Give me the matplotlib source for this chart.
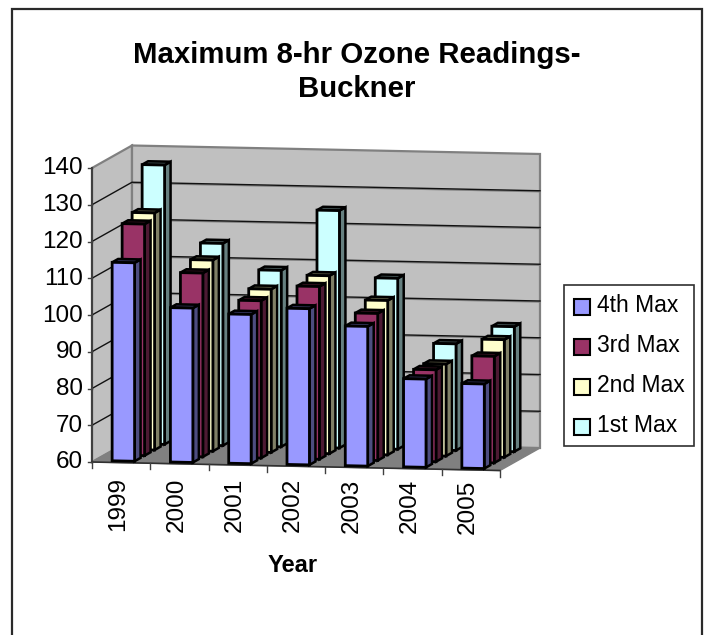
import matplotlib
matplotlib.use("Agg")
import matplotlib.pyplot as plt
from matplotlib.patches import Polygon, Rectangle

years = ["1999", "2000", "2001", "2002", "2003", "2004", "2005"]
series_names = ["4th Max", "3rd Max", "2nd Max", "1st Max"]
max4 = [114, 102, 100.6, 102.5, 98, 84, 83]
max3 = [123, 110, 102.8, 107, 100, 85, 89]
max2 = [124.5, 112, 104.4, 108.4, 102, 85, 92]
max1 = [136, 115, 108, 124.6, 106.5, 89, 94]
series_values = [max4, max3, max2, max1]
y_ticks = [60, 70, 80, 90, 100, 110, 120, 130, 140]

face = ["#9999FF", "#993366", "#FFFFCC", "#CCFFFF"]
side = ["#4D4D80", "#4D1A33", "#808066", "#668080"]
top = ["#33335A", "#33111F", "#55553F", "#445555"]

plt.rcParams["font.family"] = ["Liberation Sans", "DejaVu Sans"]
fig = plt.figure(figsize=(7.04, 6.35), dpi=100)
ax = fig.add_axes([0, 0, 1, 1])
ax.set_xlim(0, 704)
ax.set_ylim(635, 0)
ax.axis("off")

# oblique projection of the 3D chart box
ORIGIN = (92.0, 462.0)
XVEC = (408.0, 8.5)
DVEC = (40.0, -22.5)
UNIT = 294.0 / 80.0


def project(cat, depth, value):
    fx = cat / len(years)
    px = ORIGIN[0] + fx * XVEC[0] + depth * DVEC[0]
    py = ORIGIN[1] + fx * XVEC[1] + depth * DVEC[1] - (value - y_ticks[0]) * UNIT
    return (px, py)


def quad(points, fc, ec, lw=1.0, z=1):
    ax.add_patch(Polygon(points, closed=True, fc=fc, ec=ec, lw=lw, zorder=z, joinstyle="miter"))


ncat = len(years)
vmin, vmax = y_ticks[0], y_ticks[-1]

# chart frame
ax.add_patch(Rectangle((12, 8.5), 690, 640, fc="white", ec="#2a2a2a", lw=1.6, zorder=0))

# walls and floor
quad([project(0, 0, vmin), project(0, 1, vmin), project(0, 1, vmax), project(0, 0, vmax)], "#C0C0C0", "#808080", 1.6)
quad([project(0, 1, vmin), project(ncat, 1, vmin), project(ncat, 1, vmax), project(0, 1, vmax)], "#C0C0C0", "#808080", 1.6)
quad([project(0, 0, vmin), project(ncat, 0, vmin), project(ncat, 1, vmin), project(0, 1, vmin)], "#808080", "#808080", 1.0)

# gridlines
for v in y_ticks[1:-1]:
    a, b, c = project(0, 0, v), project(0, 1, v), project(ncat, 1, v)
    ax.plot([b[0], c[0]], [b[1] + 1, c[1] + 1], color="#808080", lw=1.0, zorder=2)
    ax.plot([a[0], b[0], c[0]], [a[1], b[1], c[1]], color="#111111", lw=1.0, zorder=2)

# axes lines, ticks, labels
a, b = project(0, 0, vmin), project(0, 0, vmax)
ax.plot([a[0], b[0]], [a[1], b[1]], color="#404040", lw=1.5, zorder=2)
a, b = project(0, 0, vmin), project(ncat, 0, vmin)
ax.plot([a[0], b[0]], [a[1], b[1]], color="#303030", lw=1.2, zorder=2)
for v in y_ticks:
    x0, y0 = project(0, 0, v)
    ax.plot([x0 - 4, x0], [y0, y0], color="#404040", lw=1.0, zorder=2)
    ax.text(x0 - 9, y0 + 0.5, str(v), ha="right", va="center", fontsize=17.5, color="black")
for i in range(ncat + 1):
    x0, y0 = project(i, 0, vmin)
    ax.plot([x0, x0], [y0, y0 + 6], color="#404040", lw=1.0, zorder=2)
for i, yr in enumerate(years):
    x0, y0 = project(i + 0.5, 0, vmin)
    ax.text(x0 - 3, 477 + i * 0.4, yr, rotation=90, ha="center", va="top", fontsize=17.5, color="black")

# bars, back row first
BAR_W = 0.385
BAR_D = 0.15
GAP = 0.07
ROW = 0.25
for s in range(3, -1, -1):
    for i in range(ncat):
        v = series_values[s][i]
        x0, x1 = i + 0.49 - BAR_W / 2, i + 0.49 + BAR_W / 2
        d0, d1 = s * ROW + GAP, s * ROW + GAP + BAR_D
        z = 10 + (3 - s) * 10 + i
        quad([project(x1, d0, vmin), project(x1, d1, vmin), project(x1, d1, v), project(x1, d0, v)], side[s], "black", 1.8, z)
        quad([project(x0, d0, v), project(x1, d0, v), project(x1, d1, v), project(x0, d1, v)], top[s], "black", 1.8, z)
        quad([project(x0, d0, vmin), project(x1, d0, vmin), project(x1, d0, v), project(x0, d0, v)], face[s], "black", 2.0, z)

# title and axis title
ax.text(357, 55, "Maximum 8-hr Ozone Readings-", ha="center", va="center", fontsize=21.2, fontweight="bold")
ax.text(357, 89, "Buckner", ha="center", va="center", fontsize=21.2, fontweight="bold")
ax.text(293, 565, "Year", ha="center", va="center", fontsize=17, fontweight="bold")

# legend
ax.add_patch(Rectangle((563.5, 284.5), 130, 161, fc="white", ec="#303030", lw=1.2, zorder=60))
for k, name in enumerate(series_names):
    yc = 306.5 + k * 40
    ax.add_patch(Rectangle((574, yc - 8), 16, 16, fc=face[k], ec="black", lw=1.5, zorder=61))
    ax.text(597, yc - 0.5, name, ha="left", va="center", fontsize=16.5, zorder=61)

fig.savefig("out.png", dpi=100)
